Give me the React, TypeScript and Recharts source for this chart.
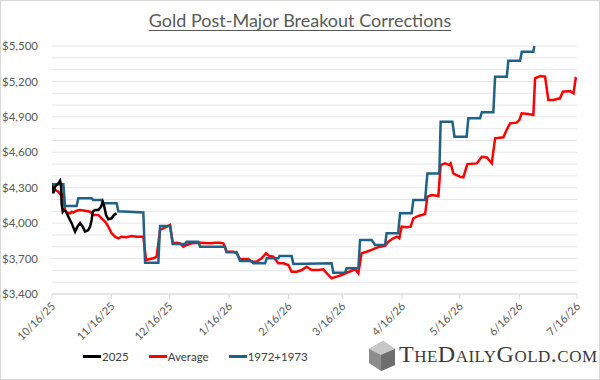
import { LineChart, Line, XAxis, YAxis, CartesianGrid } from 'recharts';

// x = days since 10/16/25
const xTicks = [0, 31, 61, 92, 123, 151, 182, 212, 243, 273];
const xTickLabels = ['10/16/25', '11/16/25', '12/16/25', '1/16/26', '2/16/26', '3/16/26', '4/16/26', '5/16/26', '6/16/26', '7/16/26'];

const yTicks = [3400, 3500, 3600, 3700, 3800, 3900, 4000, 4100, 4200, 4300, 4400, 4500, 4600, 4700, 4800, 4900, 5000, 5100, 5200, 5300, 5400, 5500];

const gold2025: [number, number][] = [
  [0, 4323], [0.7, 4253], [1.6, 4310], [3.3, 4337], [4.2, 4360], [4.7, 4323], [5, 4168], [5.6, 4097],
  [6.2, 4111], [7.3, 4097], [8.5, 4055], [10.2, 4000], [12, 3928], [13.2, 3970], [14.6, 4000], [16, 3970],
  [17.2, 3928], [18.9, 3942], [19.8, 3970], [20.6, 4027], [21.2, 4097], [22.4, 4111], [24.1, 4111],
  [25.5, 4139], [26.4, 4182], [27, 4153], [28.1, 4069], [29.3, 4033], [31, 4041], [32.2, 4069], [33.6, 4083],
];

const average: [number, number][] = [
  [0, 4323], [1.6, 4281], [3.3, 4267], [4.2, 4247], [5, 4250], [5.9, 4224], [6.8, 4111], [7.6, 4089],
  [9.4, 4083], [10.2, 4097], [11.1, 4090], [12.8, 4105], [14.6, 4111], [17.2, 4105], [19.8, 4097],
  [21.5, 4069], [24.1, 4069], [25.8, 4041], [27.6, 4013], [29.3, 3970], [31, 3914], [32.8, 3885],
  [34.5, 3872], [36.2, 3885], [38.8, 3880], [41.4, 3891], [44, 3885], [47.5, 3885], [48.9, 3688],
  [52.7, 3702], [54.4, 3716], [56.2, 3942], [57.9, 3956], [61.4, 3985], [62.8, 3829], [64.8, 3834],
  [66.6, 3829], [68.3, 3801], [70, 3815], [72.6, 3829], [77, 3834], [82.2, 3829], [84.8, 3834],
  [87.4, 3834], [89.1, 3829], [90.8, 3758], [94.3, 3758], [96, 3745], [97.8, 3694], [99.5, 3697],
  [102.1, 3697], [103.8, 3674], [106.5, 3674], [109, 3702], [111.3, 3745], [113, 3722], [115.1, 3716],
  [117.7, 3660], [120.3, 3660], [122.9, 3646], [124.6, 3589], [127.3, 3589], [129.9, 3603],
  [132.4, 3631], [135, 3603], [138.5, 3603], [141.1, 3609], [143.7, 3561], [145.4, 3533], [148, 3547],
  [150.7, 3561], [153.2, 3580], [155.8, 3597], [157.6, 3609], [159.3, 3575], [161, 3745], [163.6, 3758],
  [166.2, 3773], [168, 3787], [170.6, 3801], [173.2, 3807], [174.9, 3843], [177.5, 3872], [179.3, 3885],
  [180.6, 3872], [181.8, 3970], [184.5, 3965], [186.5, 3970], [187.9, 4041], [190.5, 4061], [194, 4077],
  [195.2, 4224], [197.4, 4238], [200.9, 4230], [202.1, 4492], [204.4, 4506], [206.6, 4492],
  [207.3, 4506], [208.7, 4421], [210.4, 4407], [212.2, 4393], [213.9, 4388], [216, 4500], [220.9, 4506],
  [223.5, 4562], [226.1, 4556], [228.7, 4506], [230.4, 4718], [234.7, 4727], [236.4, 4789],
  [238.2, 4845], [241.6, 4851], [243, 4873], [244.2, 4930], [247.7, 4924], [250.3, 4916], [251.2, 5226],
  [253.8, 5246], [256.4, 5240], [258.1, 5043], [260.7, 5043], [264.2, 5057], [265.6, 5113],
  [269.4, 5119], [271.2, 5099], [272.3, 5226], [273, 5218],
];

const y1972_1973: [number, number][] = [
  [0, 4329], [5.9, 4329], [6.8, 4145], [12.8, 4145], [13.7, 4210], [20.6, 4210], [21.5, 4196],
  [25.8, 4196], [26.7, 4168], [33.6, 4168], [34.5, 4100], [47.5, 4090], [48.4, 3665], [55.3, 3665],
  [56.2, 3976], [61.4, 3976], [62.8, 3823], [69.2, 3823], [70, 3843], [76.1, 3843], [77, 3801],
  [90, 3801], [90.8, 3753], [96, 3753], [97.8, 3680], [103.8, 3680], [104.7, 3660], [110.8, 3660],
  [111.7, 3702], [117.7, 3702], [118.3, 3722], [124.6, 3722], [125.5, 3655], [145.4, 3660],
  [146.3, 3580], [152.4, 3580], [153.2, 3618], [159.3, 3618], [160.2, 3857], [166.2, 3857], [168, 3815],
  [173.2, 3815], [174, 3914], [180, 3914], [181, 4083], [187, 4083], [187.9, 4196], [194, 4196],
  [195.2, 4421], [201.4, 4421], [202.1, 4859], [208.2, 4859], [209.3, 4732], [215.6, 4732],
  [216.5, 4888], [222.6, 4888], [223.5, 4940], [229.5, 4940], [230.4, 5240], [236.5, 5240],
  [237.3, 5376], [243.4, 5376], [244.3, 5452], [250.3, 5452], [250.8, 5500],
];

const toRows = (pts: [number, number][]) => pts.map(([day, value]) => ({ day, value }));

const legendItems = [
  { name: '2025', color: '#000000' },
  { name: 'Average', color: '#FF0000' },
  { name: '1972+1973', color: '#1F6285' },
];

const fmtY = (v: number) => ((v - 3400) % 300 === 0 ? '$' + v.toLocaleString('en-US') : '');

const XTick = (props: any) => {
  const { x, y, payload } = props;
  const idx = xTicks.indexOf(payload.value);
  return (
    <text x={x + 4} y={y + 6} transform={`rotate(-45 ${x + 4} ${y + 6})`} textAnchor="end" fontSize={11} fill="#595959" fontFamily="Lato">
      {xTickLabels[idx]}
    </text>
  );
};

export default function App() {
  return (
    <div style={{ position: 'fixed', left: 0, top: 0, width: 600, height: 380, background: '#fff', boxSizing: 'border-box', border: '1px solid #d9d9d9', fontFamily: 'Lato' }}>
      <div style={{ position: 'absolute', left: 0, width: 598, top: 8, textAlign: 'center', fontSize: 18, color: '#595959', textDecoration: 'underline', textUnderlineOffset: 3 }}>
        Gold Post-Major Breakout Corrections
      </div>
      <div style={{ position: 'absolute', left: -1, top: -1 }}>
        <LineChart width={600} height={380} margin={{ top: 46, right: 23, bottom: 36, left: 0 }}>
          <CartesianGrid vertical={false} stroke="#e6e6e6" />
          <XAxis
            type="number"
            dataKey="day"
            domain={[0, 273]}
            ticks={xTicks}
            interval={0}
            allowDataOverflow
            tick={<XTick />}
            tickSize={5}
            axisLine={{ stroke: '#d9d9d9' }}
            tickLine={{ stroke: '#d9d9d9' }}
            height={50}
          />
          <YAxis
            type="number"
            domain={[3400, 5500]}
            ticks={yTicks}
            interval={0}
            tickFormatter={fmtY}
            width={52}
            axisLine={false}
            tickLine={false}
            tickMargin={8}
            tick={{ fontSize: 11.5, fill: '#595959', fontFamily: 'Lato' }}
          />
          <Line data={toRows(average)} dataKey="value" stroke="#FF0000" strokeWidth={2.5} dot={false} isAnimationActive={false} />
          <Line data={toRows(y1972_1973)} dataKey="value" stroke="#1F6285" strokeWidth={2.5} dot={false} isAnimationActive={false} />
          <Line data={toRows(gold2025)} dataKey="value" stroke="#000000" strokeWidth={2.5} dot={false} isAnimationActive={false} />
        </LineChart>
      </div>
      <div style={{ position: 'absolute', left: 82, top: 349, display: 'flex', fontSize: 11.5, color: '#404040' }}>
        {legendItems.map((it) => (
          <div key={it.name} style={{ display: 'flex', alignItems: 'center', marginRight: 20 }}>
            <span style={{ display: 'inline-block', width: 18, height: 3, background: it.color, marginRight: 1 }} />
            {it.name}
          </div>
        ))}
      </div>
      <svg style={{ position: 'absolute', left: 362, top: 336 }} width={36} height={36}>
        <polygon points="6,12 20,4 32,12 32,28 18,34 6,26" fill="#8c8c8c" />
        <polygon points="6,12 20,4 32,12 18,18" fill="#c8c8c8" />
        <polygon points="18,18 32,12 32,28 18,34" fill="#6e6e6e" />
      </svg>
      <div style={{ position: 'absolute', left: 398, top: 340, fontFamily: 'Liberation Serif', fontSize: 24, fontVariant: 'small-caps', color: '#3a3a3a', letterSpacing: 0.5 }}>
        TheDailyGold.com
      </div>
    </div>
  );
}
